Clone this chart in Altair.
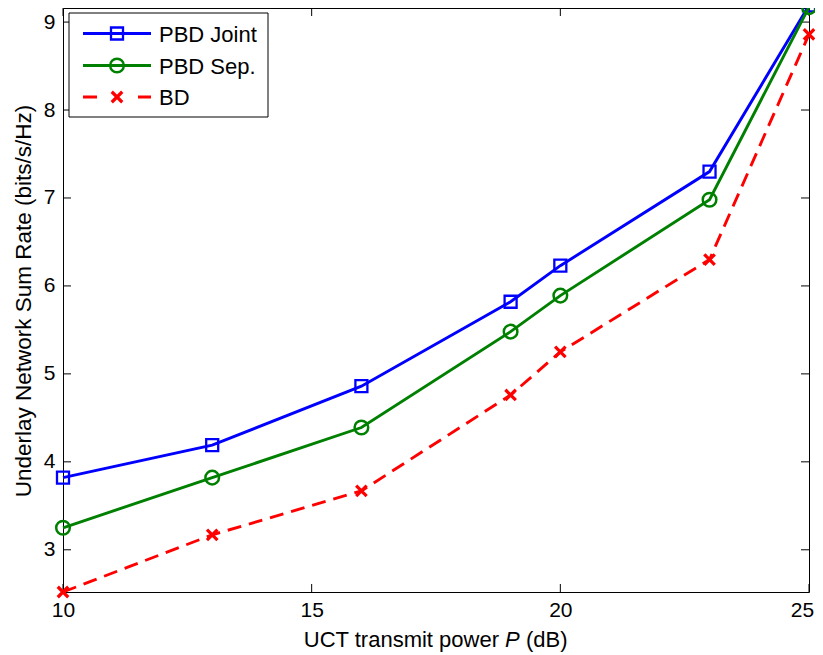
import altair as alt
import pandas as pd

# ---- data ----
x_vals = [10, 13, 16, 19, 20, 23, 25]
pbd_joint = [3.82, 4.19, 4.86, 5.82, 6.23, 7.30, 9.19]
pbd_sep = [3.25, 3.82, 4.39, 5.48, 5.89, 6.98, 9.17]
bd = [2.52, 3.17, 3.67, 4.76, 5.25, 6.30, 8.86]
series_names = ["PBD Joint", "PBD Sep.", "BD"]
colors = ["#0000ff", "#008000", "#ff0000"]
x_ticks = [10, 15, 20, 25]
y_ticks = [3, 4, 5, 6, 7, 8, 9]

W, H = 746, 584
FONT = "Liberation Sans"

x_enc = alt.X("x:Q", scale=alt.Scale(domain=[10, 25], nice=False, zero=False),
              axis=alt.Axis(values=x_ticks, title=None, grid=False, ticks=False, tickSize=0,
                            domain=False, labelFontSize=21, labelPadding=7, labelFont=FONT,
                            labelColor="black", format="d", labelFlush=False,
                            labelOffset={"condition": {"test": "datum.value == 25", "value": -7}, "value": 0}))
y_enc = alt.Y("y:Q", scale=alt.Scale(domain=[2.52, 9.16], nice=False, zero=False),
              axis=alt.Axis(values=y_ticks, title=None, grid=False, ticks=False, tickSize=0,
                            domain=False, labelFontSize=21, labelPadding=8, labelFont=FONT,
                            labelColor="black", format="d", labelFlush=False))

X_PATH = "M-1,-1L1,1M-1,1L1,-1"
shapes = ["square", "circle", X_PATH]
sizes = [144, 185, 110]
stroke_ws = [2.3, 2.5, 3.2]
dashes = [None, None, [14, 8]]
values = [pbd_joint, pbd_sep, bd]
LW = 2.9

layers = []
# inward ticks on all four sides
xt = pd.DataFrame({"x": x_ticks})
yt = pd.DataFrame({"y": y_ticks})
layers.append(alt.Chart(xt).mark_rule(color="black", strokeWidth=1).encode(x=x_enc, y=alt.value(H), y2=alt.value(H - 8)))
layers.append(alt.Chart(xt).mark_rule(color="black", strokeWidth=1).encode(x=x_enc, y=alt.value(0), y2=alt.value(8)))
layers.append(alt.Chart(yt).mark_rule(color="black", strokeWidth=1).encode(y=y_enc, x=alt.value(0), x2=alt.value(8)))
layers.append(alt.Chart(yt).mark_rule(color="black", strokeWidth=1).encode(y=y_enc, x=alt.value(W - 8), x2=alt.value(W)))

for name, vals, col, shp, sz, sw, dsh in zip(series_names, values, colors, shapes, sizes, stroke_ws, dashes):
    df = pd.DataFrame({"x": x_vals, "y": vals, "s": name})
    line_kw = dict(color=col, strokeWidth=LW)
    if dsh:
        line_kw["strokeDash"] = dsh
    layers.append(alt.Chart(df).mark_line(**line_kw).encode(x=x_enc, y=y_enc))
    layers.append(alt.Chart(df).mark_point(shape=shp, filled=False, size=sz, strokeWidth=sw,
                                           color=col, opacity=1).encode(x=x_enc, y=y_enc))

# legend box
one = pd.DataFrame({"a": [0]})
layers.append(alt.Chart(one).mark_rect(fill="white", stroke="black", strokeWidth=1).encode(
    x=alt.value(6), x2=alt.value(205), y=alt.value(5), y2=alt.value(109)))
row_y = [25.5, 57.5, 89]
for name, col, shp, sz, sw, dsh, ry in zip(series_names, colors, shapes, sizes, stroke_ws, dashes, row_y):
    d = pd.DataFrame({"s": [name]})
    rk = dict(color=col, strokeWidth=LW)
    if dsh:
        rk["strokeDash"] = [14, 41]
    layers.append(alt.Chart(d).mark_rule(**rk).encode(x=alt.value(20), x2=alt.value(88), y=alt.value(ry)))
    layers.append(alt.Chart(d).mark_point(shape=shp, filled=False, size=sz, strokeWidth=sw,
                                          color=col, opacity=1).encode(x=alt.value(54), y=alt.value(ry)))
    layers.append(alt.Chart(d).mark_text(align="left", baseline="middle", font=FONT, fontSize=22,
                                         color="black").encode(x=alt.value(96), y=alt.value(ry + 1), text="s:N"))

# axis titles (x title has an italic P)
TY = 639
tt = pd.DataFrame({"t": ["UCT transmit power"]})
layers.append(alt.Chart(tt).mark_text(align="right", baseline="alphabetic", font=FONT, fontSize=22,
                                      color="black").encode(x=alt.value(436), y=alt.value(TY), text="t:N"))
tp = pd.DataFrame({"t": ["P"]})
layers.append(alt.Chart(tp).mark_text(align="left", baseline="alphabetic", font=FONT, fontSize=22,
                                      fontStyle="italic", color="black").encode(x=alt.value(442), y=alt.value(TY), text="t:N"))
td = pd.DataFrame({"t": ["(dB)"]})
layers.append(alt.Chart(td).mark_text(align="left", baseline="alphabetic", font=FONT, fontSize=22,
                                      color="black").encode(x=alt.value(463), y=alt.value(TY), text="t:N"))
ty = pd.DataFrame({"t": ["Underlay Network Sum Rate (bits/s/Hz)"]})
layers.append(alt.Chart(ty).mark_text(align="center", baseline="middle", font=FONT, fontSize=22.5, angle=270,
                                      color="black").encode(x=alt.value(-39), y=alt.value(H / 2 + 1), text="t:N"))

chart = alt.layer(*layers).properties(
    width=W, height=H,
    autosize=alt.AutoSizeParams(type="none"),
    padding={"left": 55, "top": 0, "right": 6, "bottom": 62},
    background="white",
).configure_view(stroke="black", strokeWidth=1)

chart.save("out.html", embed_options={"renderer": "svg", "actions": False})
